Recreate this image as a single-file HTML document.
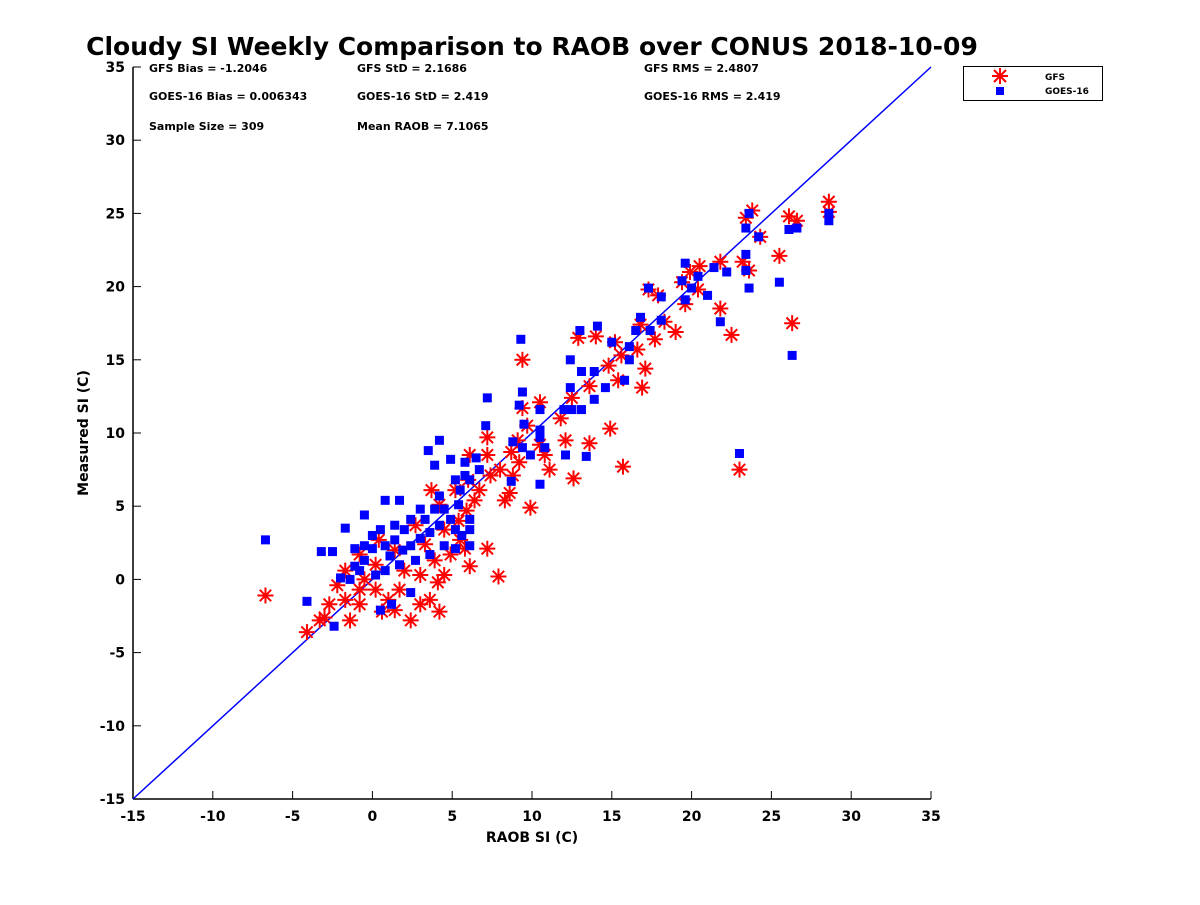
<!DOCTYPE html>
<html><head><meta charset="utf-8"><style>
html,body{margin:0;padding:0;background:#fff;}
svg text{font-family:"DejaVu Sans","Liberation Sans",sans-serif;font-weight:bold;}
</style></head><body>
<svg id="chart" width="1200" height="900" viewBox="0 0 1200 900" xmlns="http://www.w3.org/2000/svg">
<rect width="1200" height="900" fill="#fff"/>
<text x="532" y="55" font-size="25" text-anchor="middle" fill="#000">Cloudy SI Weekly Comparison to RAOB over CONUS 2018-10-09</text>
<g id="axes"></g>
<g id="marks"></g>
<g font-size="11" fill="#000">
<text x="149" y="72">GFS Bias = -1.2046</text>
<text x="357" y="72">GFS StD = 2.1686</text>
<text x="644" y="72">GFS RMS = 2.4807</text>
<text x="149" y="100">GOES-16 Bias = 0.006343</text>
<text x="357" y="100">GOES-16 StD = 2.419</text>
<text x="644" y="100">GOES-16 RMS = 2.419</text>
<text x="149" y="130">Sample Size = 309</text>
<text x="357" y="130">Mean RAOB = 7.1065</text>
</g>
<g>
<rect x="963.5" y="66.5" width="139" height="34" fill="#fff" stroke="#000" stroke-width="1"/>
<g>
<g stroke="#f00" stroke-width="2"><line x1="1000" y1="68" x2="1000" y2="84"/><line x1="992" y1="76" x2="1008" y2="76"/><line x1="994" y1="70" x2="1006" y2="82"/><line x1="994" y1="82" x2="1006" y2="70"/></g>
<text x="1045" y="80" font-size="9">GFS</text></g>
<g>
<rect x="996" y="87" width="8" height="8" fill="#00f"/>
<text x="1045" y="94" font-size="9">GOES-16</text></g>
</g>
<text x="532" y="842" font-size="14" text-anchor="middle">RAOB SI (C)</text>
<text transform="translate(88,433) rotate(-90)" font-size="14" text-anchor="middle">Measured SI (C)</text>
</svg>
<script>
const xTicks=[-15,-10,-5,0,5,10,15,20,25,30,35];
const yTicks=[-15,-10,-5,0,5,10,15,20,25,30,35];
const gfsX=[28.6,28.6,26.6,26.1,23.8,23.4,24.3,25.5,26.3,23.0,20.5,21.8,23.2,23.6,19.9,21.8,22.5,20.4,19.4,19.6,19.0,17.3,17.9,18.3,17.7,16.8,16.6,17.1,16.9,15.2,15.6,15.4,14.8,14.9,15.7,14.0,12.9,13.6,13.6,12.5,12.6,11.8,12.1,11.1,10.5,10.5,10.8,9.4,9.4,9.7,9.1,8.7,9.2,9.9,7.4,7.2,8.8,8.6,7.9,6.0,6.7,6.4,7.2,6.1,5.9,5.4,5.5,5.8,4.9,4.5,4.1,4.2,3.6,3.0,2.4,3.9,3.0,2.0,1.7,1.4,1.0,0.2,0.2,0.6,-0.5,-0.8,-1.4,-1.7,-2.2,-2.7,-3.3,-4.1,-6.7,-1.7,-0.8,0.4,2.7,4.2,5.2,3.3,4.5,3.7,7.2,6.1,8.0,8.3,-0.8,1.4,-3.0];
const gfsY=[25.8,25.1,24.5,24.8,25.2,24.7,23.4,22.1,17.5,7.5,21.4,21.7,21.7,21.1,21.0,18.5,16.7,19.8,20.3,18.8,16.9,19.8,19.4,17.6,16.4,17.4,15.7,14.4,13.1,16.2,15.3,13.6,14.6,10.3,7.7,16.6,16.5,13.2,9.3,12.4,6.9,11.0,9.5,7.5,12.1,9.2,8.5,15.0,11.7,10.5,9.5,8.7,8.0,4.9,7.1,9.7,7.1,5.9,0.2,6.8,6.1,5.4,2.1,0.9,4.7,4.0,2.7,2.1,1.7,0.3,-0.2,-2.2,-1.4,-1.7,-2.8,1.3,0.3,0.6,-0.7,2.0,-1.4,1.0,-0.7,-2.2,0.0,-1.7,-2.8,-1.4,-0.4,-1.7,-2.8,-3.6,-1.1,0.6,-0.7,2.7,3.7,5.1,6.1,2.4,3.4,6.1,8.5,8.5,7.5,5.4,1.7,-2.1,-2.6];
const goesX=[28.6,28.6,26.6,26.1,23.6,23.4,24.2,23.4,23.4,23.6,25.5,26.3,23.0,22.2,21.4,20.4,19.6,20.0,21.0,21.8,19.4,19.6,18.1,17.3,18.1,16.8,16.5,17.4,16.1,16.1,15.0,15.8,14.6,14.1,13.0,12.4,13.1,13.9,13.9,12.4,13.1,12.5,12.0,13.4,12.1,10.5,10.5,10.5,10.5,9.3,9.4,9.2,9.5,9.4,9.9,10.8,8.8,8.7,7.2,6.7,6.1,6.5,5.8,5.8,7.1,6.1,5.4,5.2,4.9,4.2,3.5,3.9,1.7,0.8,-0.5,-1.7,-2.5,-3.2,-6.7,-4.1,-2.4,0.5,1.2,2.4,-1.1,-0.5,0.0,0.8,1.4,2.0,2.4,3.0,3.6,4.2,4.9,5.2,5.6,6.1,4.5,3.6,2.7,1.7,0.8,0.2,-0.8,-1.4,-2.0,-1.1,-0.5,1.1,1.9,3.3,3.9,3.0,2.4,1.4,0.5,0.0,4.2,5.5,4.5,5.2,6.1];
const goesY=[25.0,24.5,24.0,23.9,25.0,24.0,23.4,22.2,21.1,19.9,20.3,15.3,8.6,21.0,21.3,20.7,21.6,19.9,19.4,17.6,20.4,19.1,19.3,19.9,17.7,17.9,17.0,17.0,15.9,15.0,16.2,13.6,13.1,17.3,17.0,15.0,14.2,14.2,12.3,13.1,11.6,11.6,11.6,8.4,8.5,11.6,10.2,9.7,6.5,16.4,12.8,11.9,10.6,9.0,8.5,9.0,9.4,6.7,12.4,7.5,6.8,8.3,8.0,7.1,10.5,4.1,5.1,6.8,8.2,9.5,8.8,7.8,5.4,5.4,4.4,3.5,1.9,1.9,2.7,-1.5,-3.2,-2.1,-1.7,-0.9,2.1,2.3,2.1,2.3,2.7,3.4,2.3,2.8,3.2,3.7,4.1,3.4,3.0,2.3,2.3,1.7,1.3,1.0,0.6,0.3,0.6,0.0,0.1,0.9,1.3,1.6,2.0,4.1,4.8,4.8,4.1,3.7,3.4,3.0,5.7,6.1,4.8,2.1,3.4];
const NS='http://www.w3.org/2000/svg';
const X0=133,X1=931,Y0=799,Y1=67,DMIN=-15,DMAX=35;
function sx(v){return X0+(v-DMIN)/(DMAX-DMIN)*(X1-X0);}
function sy(v){return Y0-(v-DMIN)/(DMAX-DMIN)*(Y0-Y1);}
function mk(tag,attrs,parent){const e=document.createElementNS(NS,tag);for(const k in attrs)e.setAttribute(k,attrs[k]);parent.appendChild(e);return e;}
const axes=document.getElementById('axes'),marks=document.getElementById('marks');
const xa=mk('line',{x1:X0,y1:Y0,x2:X1,y2:Y0,stroke:'#000','stroke-width':1.5},axes);


const ya=mk('line',{x1:X0,y1:Y0,x2:X0,y2:Y1,stroke:'#000','stroke-width':1.5},axes);


xTicks.forEach(t=>{const x=sx(t);mk('line',{x1:x,y1:Y0,x2:x,y2:Y0-8,stroke:'#000'},axes);
const tx=mk('text',{x:x,y:Y0+22,'font-size':14,'text-anchor':'middle'},axes);tx.textContent=t;

});
yTicks.forEach(t=>{const y=sy(t);mk('line',{x1:X0,y1:y,x2:X0+8,y2:y,stroke:'#000'},axes);
const tx=mk('text',{x:X0-8,y:y+5,'font-size':14,'text-anchor':'end'},axes);tx.textContent=t;

});
const ref=mk('line',{x1:sx(-15),y1:sy(-15),x2:sx(35),y2:sy(35),stroke:'#00f','stroke-width':1.5},marks);


gfsX.forEach((v,i)=>{const cx=sx(v),cy=sy(gfsY[i]),r=8,d=5.7;
const g=mk('g',{stroke:'#f00','stroke-width':2},marks);


mk('line',{x1:cx,y1:cy-r,x2:cx,y2:cy+r},g);mk('line',{x1:cx-r,y1:cy,x2:cx+r,y2:cy},g);
mk('line',{x1:cx-d,y1:cy-d,x2:cx+d,y2:cy+d},g);mk('line',{x1:cx-d,y1:cy+d,x2:cx+d,y2:cy-d},g);});
goesX.forEach((v,i)=>{const r=mk('rect',{x:sx(v)-4.5,y:sy(goesY[i])-4.5,width:9,height:9,fill:'#00f'},marks);

});
</script>
</body></html>
